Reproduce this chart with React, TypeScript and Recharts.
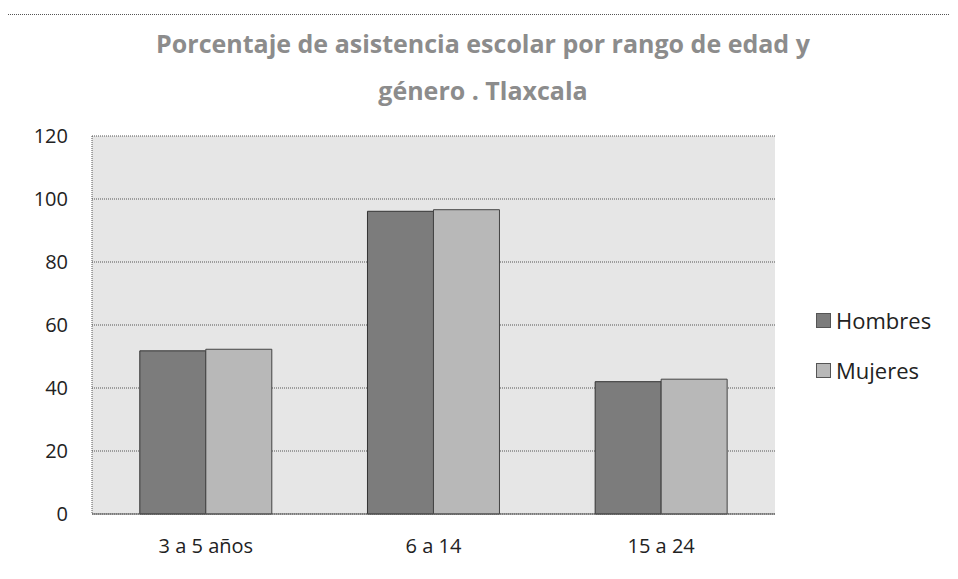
import React from "react";
import { BarChart, Bar, XAxis, YAxis, CartesianGrid } from "recharts";

const categories = ["3 a 5 años", "6 a 14", "15 a 24"];
const hombres = [51.8, 96.1, 42.0];
const mujeres = [52.3, 96.6, 42.8];
const yTicks = [0, 20, 40, 60, 80, 100, 120];
const titleLines = ["Porcentaje de asistencia escolar por rango de edad y", "género . Tlaxcala"];
const seriesNames = ["Hombres", "Mujeres"];
const seriesColors = ["#7c7c7c", "#b8b8b8"];

const data = categories.map((c, i) => ({ name: c, Hombres: hombres[i], Mujeres: mujeres[i] }));

const FONT = "'Open Sans', sans-serif";

export default function App() {
  return (
    <div style={{ position: "relative", width: 950, height: 571 }}>
      <div
        style={{
          position: "absolute",
          left: -1,
          top: 6,
          width: 951,
          height: 565,
          borderLeft: "1px dotted #555",
          borderTop: "1px dotted #555",
        }}
      />
      <div
        style={{
          position: "absolute",
          left: 0,
          top: 12,
          width: 950,
          textAlign: "center",
          fontFamily: FONT,
          fontWeight: 700,
          fontSize: 25,
          lineHeight: "47px",
          color: "#8c8c8c",
        }}
      >
        {titleLines.map((t) => (
          <div key={t}>{t}</div>
        ))}
      </div>
      <div
        style={{
          position: "absolute",
          left: 808,
          top: 297,
          fontFamily: FONT,
          fontSize: 22,
          color: "#222",
        }}
      >
        {seriesNames.map((n, i) => (
          <div key={n} style={{ display: "flex", alignItems: "center", height: 30, marginBottom: 20 }}>
            <span
              style={{
                display: "inline-block",
                width: 13,
                height: 13,
                background: seriesColors[i],
                border: "1px solid #555",
                marginRight: 5,
              }}
            />
            {n}
          </div>
        ))}
      </div>
      <BarChart
        width={950}
        height={571}
        data={data}
        margin={{ top: 128, right: 183, bottom: 23, left: 0 }}
        barCategoryGap="21%"
        barGap={0}
      >
        <CartesianGrid
          horizontal={true}
          vertical={false}
          fill="#e6e6e6"
          stroke="#555"
          strokeDasharray="1 1"
        />
        <XAxis
          dataKey="name"
          height={42}
          tickLine={false}
          tickSize={0}
          tickMargin={25}
          axisLine={{ stroke: "#555" }}
          tick={{ fontFamily: FONT, fontSize: 20, fill: "#222" }}
        />
        <YAxis
          width={84}
          domain={[0, 120]}
          ticks={yTicks}
          tickLine={false}
          tickSize={0}
          tickMargin={24}
          axisLine={{ stroke: "#555", strokeDasharray: "1 1" }}
          tick={{ fontFamily: FONT, fontSize: 20, fill: "#222" }}
        />
        <YAxis
          yAxisId="right"
          orientation="right"
          width={0}
          domain={[0, 120]}
          tick={false}
          tickLine={false}
          axisLine={{ stroke: "#555", strokeDasharray: "1 1" }}
        />
        <Bar dataKey="Hombres" fill={seriesColors[0]} stroke="#333" strokeWidth={1} isAnimationActive={false} />
        <Bar dataKey="Mujeres" fill={seriesColors[1]} stroke="#444" strokeWidth={1} isAnimationActive={false} />
      </BarChart>
    </div>
  );
}
